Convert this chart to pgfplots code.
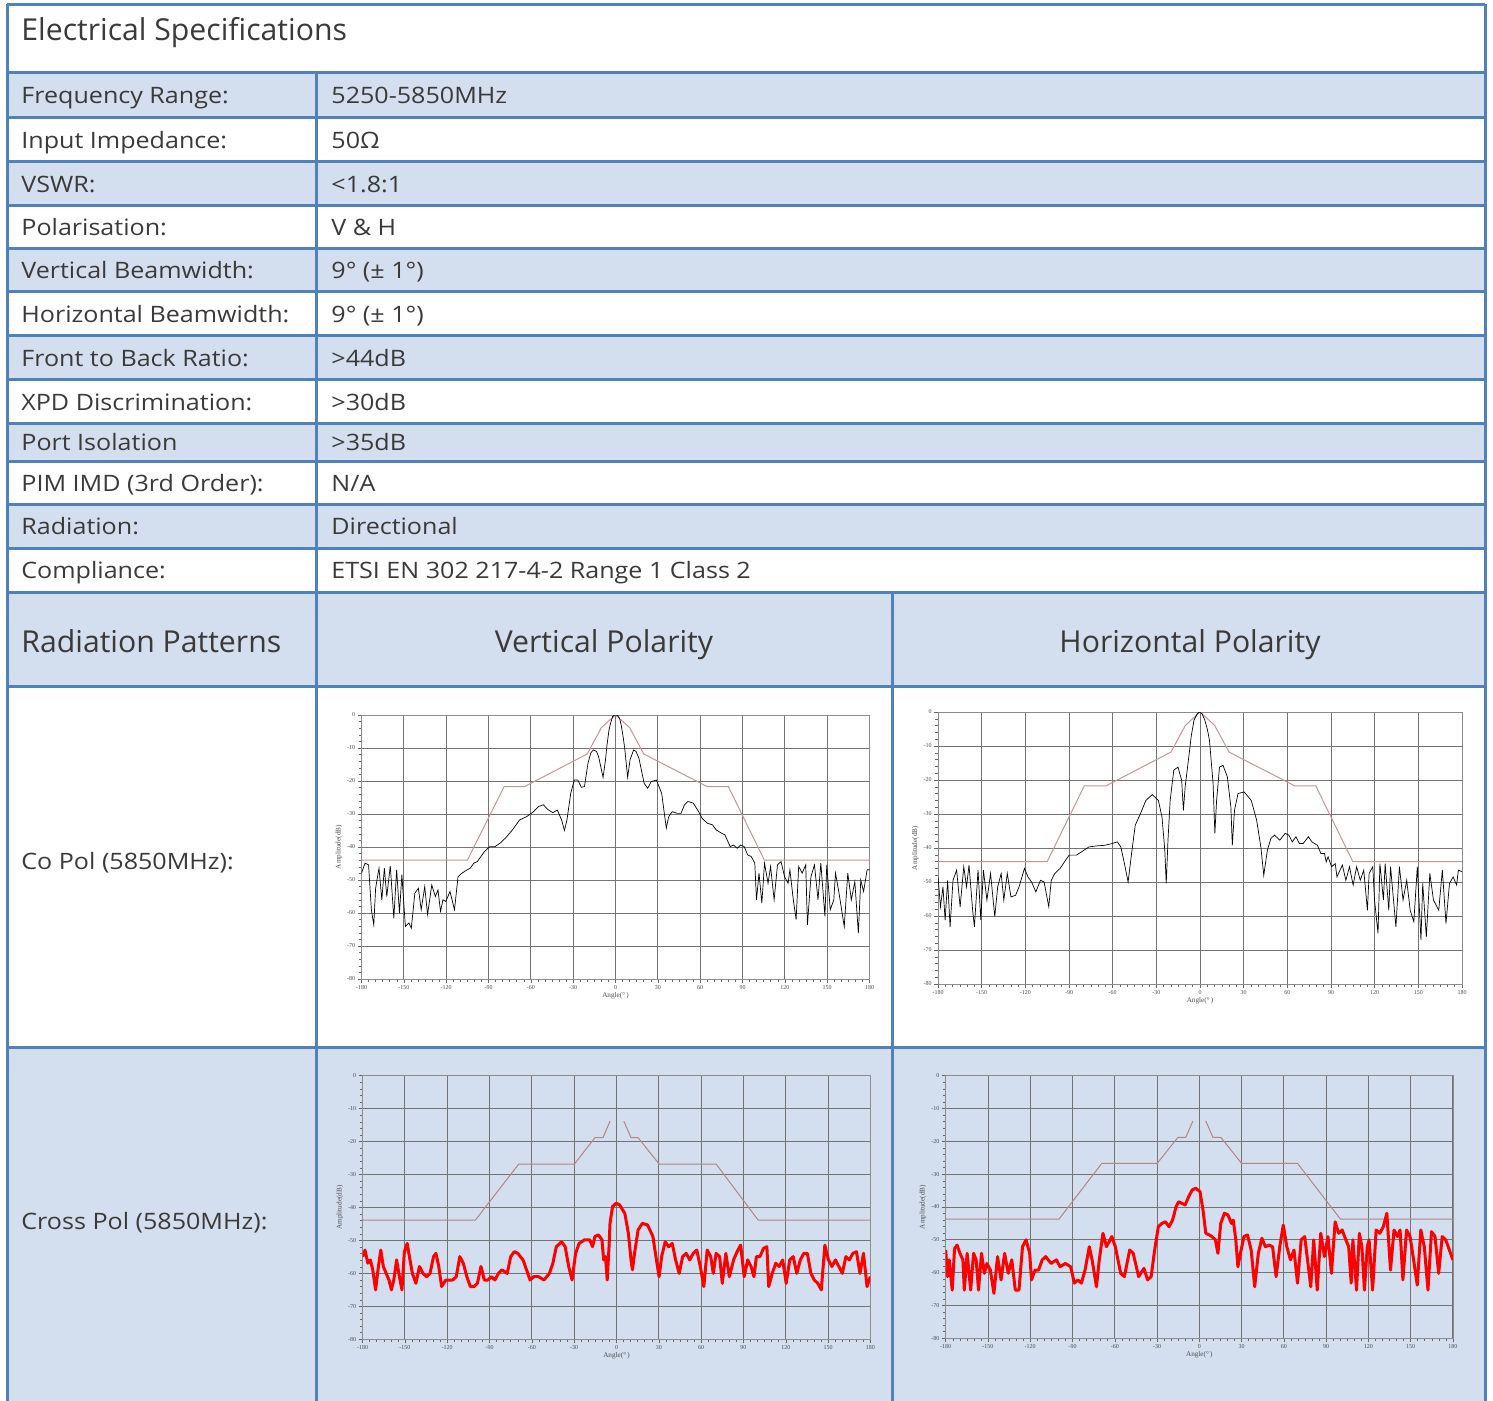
\documentclass[border=0pt]{standalone}
\usepackage{fontspec}
\setmainfont{Open Sans}
\newfontfamily\rowfam{Open Sans}[FakeStretch=1.11]
\newfontfamily\tickf{Liberation Serif}
\usepackage{pgfplots}
\pgfplotsset{compat=1.18}
\definecolor{bord}{HTML}{4F81BD}
\definecolor{lb}{HTML}{D3DFEE}
\definecolor{txt}{HTML}{3A3A3A}
\definecolor{maskc}{RGB}{196,150,150}
\newcommand{\rowf}{\rowfam\fontsize{11.3}{13}\selectfont}
\newcommand{\bigf}{\fontsize{15.1}{17}\selectfont}
\pgfplotsset{rp/.style={
  scale only axis, xmin=-180,xmax=180,ymin=-80,ymax=0,
  xtick={-180,-150,...,180}, ytick={-80,-70,...,0},
  minor x tick num=5, minor y tick num=4,
  tick pos=left,
  xmajorgrids, ymajorgrids,
  major grid style={draw=black!55, line width=0.45pt},
  axis line style={draw=black!45, line width=0.4pt},
  every tick/.style={black!60, line width=0.25pt},
  tick align=outside, major tick length=2pt, minor tick length=1.4pt,
  ticklabel style={font=\tickf\fontsize{3}{3.5}\selectfont, text=black!70, inner sep=1pt},
  /pgf/number format/assume math mode=true,
  xlabel={Angle(°\,)}, ylabel={Amplitude(dB)},
  label style={font=\tickf\fontsize{3.6}{4}\selectfont, text=black!70},
  xlabel style={yshift=3pt},
  ylabel style={yshift=-2pt},
}}
\begin{document}
\begin{tikzpicture}
\useasboundingbox (0,0) rectangle (746.5pt,-700.5pt);
\begin{scope}[x=0.5pt,y=-0.5pt]
% fills
\fill[white] (7,5) rectangle (1485,1401);
\foreach \a/\b in {73/118,162/206,249/292,336/380,423/461,504/548,592/686,1047/1401}{
  \fill[lb] (7,\a) rectangle (1485,\b);
}
\end{scope}

% ---------- Co pol vertical ----------
\begin{axis}[rp, at={(180.75pt,-489.5pt)}, anchor=south west, width=254pt, height=132pt]
\addplot[maskc, line width=0.5pt] coordinates {(-180,-44) (-105,-44) (-79,-21.7) (-64.5,-21.7) (-20,-11.8) (-10,-3.8) (0,0) (10,-3.8) (20,-11.8) (65,-21.7) (80,-21.7) (105.5,-44) (180,-44)};
\addplot[black, line width=0.35pt] coordinates {(-180,-47.9) (-177.5,-44.9) (-175,-45.4) (-173,-59) (-171.3,-63.6) (-170,-52.5) (-167.6,-46.4) (-165.6,-56) (-163.8,-46.4) (-162.1,-55) (-159.6,-45.7) (-157.1,-61.6) (-155.1,-46.9) (-153.1,-60) (-151.4,-48.4) (-148.9,-64.1) (-146.4,-63) (-144.7,-64.6) (-142.2,-54) (-139.7,-52.5) (-137.7,-59) (-135.2,-52) (-133.2,-60.5) (-130.2,-51.5) (-127.7,-55) (-125.8,-53) (-124,-59.5) (-122.3,-56) (-120.3,-56.5) (-117.3,-53.5) (-114.1,-59) (-111.6,-49) (-109.1,-48) (-105.4,-47) (-102.9,-46.4) (-100.4,-44.9) (-97.9,-44.4) (-95.4,-42.9) (-92.9,-41.4) (-89.2,-39.9) (-85.4,-39.9) (-81.7,-38.8) (-78,-37.3) (-73,-34.8) (-68,-31.8) (-63,-30.8) (-58.1,-29.3) (-54.4,-27.7) (-51.1,-27.2) (-48.1,-28.6) (-44.4,-29.6) (-41.2,-28.8) (-38.2,-31.8) (-36.2,-35) (-34.4,-31.8) (-31.7,-23.7) (-29.2,-19.7) (-26.7,-19.7) (-24.2,-21.9) (-22,-21.7) (-19.5,-14.6) (-17.5,-11.5) (-15.8,-10.6) (-13.5,-11) (-12,-12.6) (-8.8,-18.9) (-7.1,-13.6) (-6,-9) (-4.6,-4.5) (-3.5,-2.5) (-2.1,-0.5) (-1,-0.1) (0.4,0) (1.5,-0.2) (2.9,-1) (4,-3) (5.4,-6.6) (6.5,-10) (8.6,-18.9) (10.3,-13.6) (12.8,-10.6) (14.5,-11) (16.6,-13.1) (20.3,-20.7) (22.8,-22.2) (25.3,-20.2) (29,-19.7) (32.7,-23.7) (36,-34.3) (37.7,-30.8) (40.2,-29.3) (43.9,-29.8) (46.4,-29.8) (48.9,-27.2) (51.4,-26.2) (55.1,-26.7) (58.9,-29.3) (61.4,-31.3) (65.1,-32.8) (68.8,-33.3) (71.3,-34.8) (75,-35.8) (77.5,-36.3) (81.3,-39.9) (83.7,-39.4) (86.2,-40.4) (88.7,-39.4) (91.2,-39.9) (93.7,-42.4) (96.2,-42.9) (98.7,-44.9) (99.9,-56) (101.7,-47.9) (103.7,-57) (105.6,-44.9) (108.1,-51) (109.9,-45.9) (112.4,-56) (114.8,-45.4) (117.3,-44.4) (119.8,-49) (122.3,-51) (123.6,-46.9) (126,-56) (128,-62) (129.8,-45.9) (132.3,-47.9) (134.8,-45.4) (136,-63.6) (138.5,-49) (141,-45.4) (143.5,-56) (145.5,-44.9) (148.4,-61) (149.7,-45.4) (152.2,-59) (154.7,-56) (155.9,-47.9) (158.4,-54) (162.1,-64.1) (164.6,-47.9) (167.1,-56) (169.6,-50.5) (172.1,-66.1) (173.8,-50) (175.8,-53.5) (178.3,-46.9) (180,-46.9)};
\end{axis}

% ---------- Co pol horizontal ----------
\begin{axis}[rp, at={(469pt,-492pt)}, anchor=south west, width=262pt, height=136pt]
\addplot[maskc, line width=0.5pt] coordinates {(-180,-44) (-105,-44) (-79.5,-21.7) (-64.5,-21.7) (-20,-11.8) (-10,-3.9) (0,0) (10,-3.9) (20,-11.8) (65,-21.7) (79.5,-21.7) (105,-44) (180,-44)};
\addplot[black, line width=0.35pt] coordinates {(-180,-48.5) (-178.3,-57.3) (-176.6,-51.4) (-175.1,-61.2) (-173.4,-49.5) (-171.7,-63.2) (-169.7,-49.5) (-167.2,-46.5) (-164.8,-57.3) (-162.3,-45.5) (-160.4,-51.4) (-158.7,-45) (-156.2,-58.3) (-155,-63.2) (-152.5,-46.5) (-150.6,-61.2) (-148.8,-46.5) (-146.4,-55.3) (-143.9,-47.5) (-141,-60.2) (-139,-51.4) (-136.6,-47.5) (-134.8,-55.3) (-132.4,-47.5) (-129.9,-54.4) (-126.7,-53.9) (-124.3,-51.4) (-120.6,-46) (-118.2,-48.5) (-115.7,-50) (-112.8,-52.9) (-109.6,-49.5) (-107.1,-50) (-103.9,-57.3) (-102.2,-49.5) (-99.8,-47.5) (-96.1,-46) (-92.4,-43.6) (-89.9,-42.1) (-85,-42.1) (-81.3,-41.1) (-76.4,-39.7) (-71.5,-39.4) (-65.4,-39.2) (-60.5,-38.7) (-56.8,-38.2) (-54.4,-39.7) (-51.9,-44.6) (-49.4,-50) (-47,-41.6) (-44.5,-33.3) (-40.9,-29.9) (-37.2,-26) (-32.8,-24.3) (-28.6,-26) (-26.1,-30.9) (-24.2,-40.6) (-23.2,-50.4) (-22,-37.7) (-20.5,-26) (-18,-17.1) (-15.1,-16.2) (-12.6,-20.1) (-11.4,-28.9) (-10.2,-22) (-7.7,-13.2) (-6,-7) (-4.1,-2.4) (-2,-0.6) (-0.4,0) (1.5,-0.6) (3.3,-2.4) (5,-5) (6.5,-8.3) (9,-21.1) (10.2,-35.7) (11.4,-26) (13.4,-16.2) (15.8,-15.7) (18.8,-19.1) (21.2,-27.9) (22.2,-39.2) (23.7,-28.9) (26.1,-24) (30.3,-23.5) (35.2,-26) (38.9,-31.8) (41.8,-39.7) (43.8,-48) (46.3,-40.6) (48.7,-37.2) (51.2,-36.2) (54.8,-37.7) (58.5,-35.7) (61,-36.2) (63.4,-38.2) (65.9,-36.7) (68.3,-38.7) (70.8,-38.7) (74.5,-36.7) (76.9,-38.2) (80.6,-39.2) (83.1,-41.6) (85.5,-41.6) (86.7,-44.1) (88,-42.6) (90.4,-45.5) (92.9,-44.6) (94.1,-48.5) (97.8,-45) (100.2,-49.5) (102.7,-45.5) (105.2,-50.9) (107.6,-45.5) (110.1,-49.5) (112.5,-46.5) (115,-58.3) (116.2,-47.5) (118.7,-45.5) (119.9,-55.3) (122.3,-65.1) (123.6,-44.6) (126,-55.3) (127.2,-44.6) (129.7,-58.3) (130.9,-45.5) (134.6,-63.2) (137,-45.5) (139.5,-55.3) (142,-49.5) (144.4,-58.3) (146.9,-61.7) (149.3,-45.5) (151.8,-67.1) (153,-50.4) (155.5,-66.1) (157.9,-47.5) (160.4,-55.3) (164,-58.3) (166.5,-46.5) (169,-62.2) (171.4,-50.4) (173.9,-48.5) (176.3,-50.9) (177.5,-46.5) (180,-47)};
\end{axis}

% ---------- Cross pol vertical ----------
\begin{axis}[rp, at={(181.3pt,-669.65pt)}, anchor=south west, width=253.9pt, height=131.8pt]
\addplot[maskc!90!black, line width=0.5pt] coordinates {(-180,-43.8) (-100,-43.8) (-69.3,-26.8) (-29.8,-26.8) (-15.3,-18.8) (-9.6,-18.8) (-4.6,-13.8)};
\addplot[maskc!90!black, line width=0.5pt] coordinates {(5.2,-13.8) (10.3,-18.8) (15.3,-18.8) (30.2,-26.8) (70.6,-26.8) (100.4,-43.8) (180,-43.8)};
\addplot[red, line width=1.5pt, line join=round] coordinates {(-180,-54.9) (-178.3,-52.9) (-176.3,-56.9) (-174.5,-55.9) (-172.8,-58.9) (-170.8,-65) (-168.8,-57.9) (-167.1,-52.9) (-165.3,-57.9) (-163.3,-60) (-161.3,-62) (-159.6,-65) (-157.9,-62) (-155.9,-55.9) (-153.9,-61) (-152.1,-65) (-150.4,-53.4) (-148.4,-50.9) (-146.4,-55.9) (-144.7,-60) (-142.2,-63) (-139.7,-57.9) (-137.2,-60) (-134.7,-61) (-132.2,-60) (-129.7,-54.9) (-128,-53.9) (-126,-57.9) (-124,-64) (-121,-62) (-118.5,-62) (-116.1,-62) (-113.6,-61) (-111.1,-54.9) (-108.6,-56.9) (-106.1,-61) (-103.6,-64) (-101.1,-64) (-98.6,-63) (-96.1,-57.9) (-93.7,-62) (-91.2,-62) (-88.7,-61) (-86.2,-62) (-83.7,-60) (-81.2,-58.9) (-77.5,-60) (-75,-54.9) (-72.5,-53.4) (-70,-53.9) (-66.3,-55.9) (-63.8,-58.9) (-61.3,-62) (-58.8,-61) (-55.1,-61) (-51.4,-62) (-47.6,-60) (-45.1,-56.9) (-42.7,-51.9) (-38.9,-50.4) (-36.4,-51.9) (-33.9,-57.9) (-31.5,-62) (-29,-53.9) (-26.5,-50.9) (-22.7,-49.8) (-19,-49.8) (-17,-51.9) (-15.3,-48.8) (-12.8,-48.3) (-10.3,-49.8) (-9.1,-55.9) (-7.8,-54.9) (-6.6,-62) (-5.3,-51.9) (-4.6,-44.8) (-2.8,-39.7) (-0.3,-38.7) (2.2,-39.2) (5.9,-41.8) (8.4,-47.8) (10.3,-55.9) (11.3,-58.9) (12.8,-53.9) (15.3,-46.8) (18.3,-44.8) (22,-45.3) (25.8,-48.8) (28.3,-55.9) (30.2,-61) (32,-54.9) (34.5,-50.4) (37,-51.9) (39.5,-50.9) (41.9,-55.9) (44.4,-60) (46.9,-54.9) (49.4,-53.9) (51.9,-55.9) (54.4,-53.9) (56.9,-52.9) (59.4,-57.9) (61.9,-64) (64.3,-52.9) (66.8,-54.9) (68.6,-60) (70.6,-53.9) (73.1,-54.9) (75,-63) (77.5,-53.9) (80,-61) (83,-55.9) (85.5,-53.4) (88,-51.4) (90.5,-61) (93,-55.9) (95.4,-57.9) (97.4,-61) (99.2,-54.9) (101.7,-54.9) (104.2,-52.4) (106.6,-51.9) (107.9,-64) (110.4,-60) (112.9,-56.9) (115.3,-57.9) (117.8,-55.9) (120.3,-63) (122.8,-55.9) (125.3,-54.9) (127.8,-60) (130.3,-55.9) (132.8,-53.9) (135.3,-53.9) (137.8,-60) (140.2,-62) (142.7,-63) (145.2,-65) (147.7,-51.4) (150.2,-55.9) (152.7,-57.9) (155.2,-55.9) (157.6,-57.9) (160.1,-60) (162.6,-54.9) (165.1,-55.9) (167.6,-53.9) (170.1,-53.4) (172.6,-60) (175.1,-53.9) (177.6,-64) (180,-61)};
\end{axis}

% ---------- Cross pol horizontal ----------
\begin{axis}[rp, at={(472.85pt,-669.15pt)}, anchor=south west, width=253.6pt, height=131.3pt]
\addplot[maskc!90!black, line width=0.5pt] coordinates {(-180,-43.7) (-99.6,-43.7) (-69.2,-26.7) (-29.9,-26.7) (-15.2,-18.8) (-9.6,-18.8) (-4.6,-13.8)};
\addplot[maskc!90!black, line width=0.5pt] coordinates {(4.6,-13.8) (9.7,-18.8) (15.3,-18.8) (30,-26.7) (69.7,-26.7) (100.2,-43.7) (180,-43.7)};
\addplot[red, line width=1.5pt, line join=round] coordinates {(-180,-53.1) (-178.7,-61.2) (-177.5,-56.1) (-175.4,-65.3) (-173.7,-52.6) (-171.9,-51.6) (-169.9,-54.1) (-167.8,-56.1) (-166.8,-65.3) (-164.8,-54.1) (-162.3,-65.3) (-160.2,-54.1) (-158.4,-56.1) (-156.7,-65.3) (-154.6,-54.1) (-152.6,-60.2) (-150.8,-57.2) (-148.3,-59.2) (-145.8,-66.3) (-143.2,-55.1) (-140.7,-62.2) (-138.2,-54.1) (-135.6,-60.2) (-133.1,-56.1) (-130.6,-65.3) (-128,-65.3) (-125.5,-52.1) (-123,-50) (-120.4,-54.1) (-119.1,-62.2) (-116.6,-59.2) (-114.1,-59.2) (-111.5,-56.1) (-109,-55.1) (-105.2,-57.2) (-101.4,-56.1) (-98.9,-58.2) (-95.1,-57.2) (-91.3,-58.2) (-88.7,-63.2) (-86.2,-62.2) (-83.7,-63.2) (-81.1,-59.2) (-78.1,-52.1) (-76.1,-56.1) (-73,-64.3) (-71,-56.1) (-68.4,-48) (-65.9,-52.1) (-62.1,-49) (-59.6,-52.1) (-55.8,-60.2) (-53.2,-61.2) (-49.4,-53.1) (-46.9,-54.1) (-43.1,-61.2) (-39.3,-58.7) (-36.7,-62.2) (-34.2,-61.2) (-31.7,-53.1) (-29.1,-46) (-26.6,-45) (-24.1,-44.5) (-21.5,-46) (-19,-44) (-16.5,-39.9) (-14.7,-38.4) (-12.2,-38.9) (-10.1,-39.4) (-7.6,-36.9) (-5.1,-34.8) (-2.5,-34.3) (0.5,-35.3) (2.6,-40.9) (4.6,-48) (7.1,-48.5) (8.9,-49) (11.4,-50) (13.2,-54.1) (15.2,-45) (17.8,-41.9) (20.3,-42.4) (22.8,-45) (24.1,-44) (25.9,-50) (27.4,-58.2) (29.2,-54.1) (31.7,-49) (34.2,-48.5) (36.8,-53.1) (39.3,-64.3) (41.9,-54.1) (44.4,-49.5) (46.9,-52.1) (49.5,-51.6) (52,-52.1) (54.5,-61.2) (57.1,-52.1) (59.6,-45.5) (62.1,-52.1) (64.7,-56.1) (67.2,-53.1) (69.7,-63.2) (72.3,-50) (74.8,-49) (77.4,-58.2) (79.1,-64.3) (81.2,-50) (83.7,-65.3) (86.2,-48) (88.8,-55.1) (91.3,-49) (93.8,-60.2) (96.4,-44.5) (98.9,-48) (101.4,-47) (104,-50) (106,-52.1) (107.8,-63.2) (109,-50) (111.6,-65.3) (113.6,-48) (115.4,-52.1) (117.2,-65.3) (119.2,-52.1) (120.5,-50) (123,-65.3) (125.5,-47) (128.1,-48) (130.6,-46) (133.1,-41.9) (135.7,-59.2) (138.2,-47) (140.7,-49) (142.5,-47) (144.5,-62.2) (147.1,-47) (149.6,-49) (152.1,-56.1) (154.7,-63.8) (157.2,-47) (159.7,-52.1) (162.3,-65.3) (164.8,-47.5) (167.3,-49) (169.9,-60.2) (172.4,-49) (174.9,-50) (177.5,-53.1) (180,-56.1)};
\end{axis}

\begin{scope}[x=0.5pt,y=-0.5pt]
% lines
\begin{scope}[draw=bord, line width=1.5pt]
\draw (7,5) -- (1485,5);
\foreach \y in {73,118,162,206,249,292,336,380,423,461,504,548,592,686,1047}{
  \draw (7,\y) -- (1485,\y);
}
\draw (7,4) -- (7,1402);
\draw (1485,4) -- (1485,1402);
\draw (316,73) -- (316,1402);
\draw (892,592) -- (892,1402);
\end{scope}
% texts
\begin{scope}[every node/.style={inner sep=0pt, text=txt, anchor=base west}]
\node[font=\bigf] at (21,41) {Electrical Specifications};
\foreach \y/\l/\v in {104/{Frequency Range:}/{5250-5850MHz}, 148.5/{Input Impedance:}/{50Ω}, 192.5/{VSWR:}/{<1.8:1}, 236/{Polarisation:}/{V \& H}, 279/{Vertical Beamwidth:}/{9° (± 1°)}, 322.5/{Horizontal Beamwidth:}/{9° (± 1°)}, 366.5/{Front to Back Ratio:}/{>44dB}, 410/{XPD Discrimination:}/{>30dB}, 451/{Port Isolation}/{>35dB}, 491/{PIM IMD (3rd Order):}/{N/A}, 534.5/{Radiation:}/{Directional}, 578.5/{Compliance:}/{ETSI EN 302 217-4-2 Range 1 Class 2}}{
  \node[font=\rowf] at (21,\y) {\l};
  \node[font=\rowf] at (331,\y) {\v};
}
\node[font=\bigf] at (21,652) {Radiation Patterns};
\node[font=\bigf, anchor=base] at (604,652) {Vertical Polarity};
\node[font=\bigf, anchor=base] at (1190,652) {Horizontal Polarity};
\node[font=\rowf] at (21,869) {Co Pol (5850MHz):};
\node[font=\rowf] at (21,1229) {Cross Pol (5850MHz):};
\end{scope}
\end{scope}
\end{tikzpicture}
\end{document}
